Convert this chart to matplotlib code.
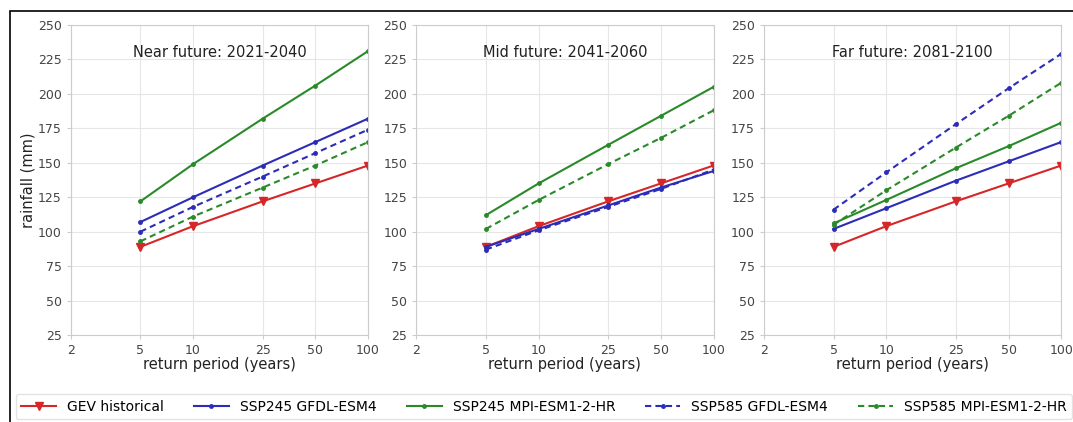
import matplotlib
matplotlib.use('Agg')
import matplotlib.pyplot as plt
from matplotlib.patches import Rectangle
from matplotlib.ticker import FixedLocator, NullLocator, FixedFormatter

# Return periods (years)
periodos = [5, 10, 25, 50, 100]
xticks = [2, 5, 10, 25, 50, 100]
yticks = [25, 50, 75, 100, 125, 150, 175, 200, 225, 250]

titulos = ['Near future: 2021-2040', 'Mid future: 2041-2060', 'Far future: 2081-2100']

gev_hist = [89, 104, 122, 135, 148]

# Near future
near_245_gfdl = [107, 125, 148, 165, 182]
near_245_mpi = [122, 149, 182, 206, 231]
near_585_gfdl = [100, 118, 140, 157, 174]
near_585_mpi = [93, 111, 132, 148, 165]

# Mid future
mid_245_gfdl = [89, 102, 119, 132, 144]
mid_245_mpi = [112, 135, 163, 184, 205]
mid_585_gfdl = [87, 101, 118, 131, 145]
mid_585_mpi = [102, 123, 149, 168, 188]

# Far future
far_245_gfdl = [102, 117, 137, 151, 165]
far_245_mpi = [106, 123, 146, 162, 179]
far_585_gfdl = [116, 143, 178, 204, 229]
far_585_mpi = [105, 130, 161, 184, 208]

cenarios = [
    (near_245_gfdl, near_245_mpi, near_585_gfdl, near_585_mpi),
    (mid_245_gfdl, mid_245_mpi, mid_585_gfdl, mid_585_mpi),
    (far_245_gfdl, far_245_mpi, far_585_gfdl, far_585_mpi),
]

rotulos = ['GEV historical', 'SSP245 GFDL-ESM4', 'SSP245 MPI-ESM1-2-HR',
           'SSP585 GFDL-ESM4', 'SSP585 MPI-ESM1-2-HR']

fig = plt.figure(figsize=(10.73, 4.22), dpi=100)
lefts = [0.066, 0.388, 0.712]
largura = 0.277
bottom = 0.206
altura = 0.735

handles = None
for i, (titulo, (g245, m245, g585, m585)) in enumerate(zip(titulos, cenarios)):
    ax = fig.add_axes([lefts[i], bottom, largura, altura])
    h0, = ax.plot(periodos, gev_hist, '-', color='#d62728', marker='v', ms=6, lw=1.5)
    h1, = ax.plot(periodos, g245, '-', color='#2c2cb8', marker='.', ms=5, lw=1.5)
    h2, = ax.plot(periodos, m245, '-', color='#2a8a2a', marker='.', ms=5, lw=1.5)
    h3, = ax.plot(periodos, g585, '--', color='#2c2cb8', marker='.', ms=5, lw=1.5,
                  dashes=(3, 2))
    h4, = ax.plot(periodos, m585, '--', color='#2a8a2a', marker='.', ms=5, lw=1.5,
                  dashes=(3, 2))
    handles = [h0, h1, h2, h3, h4]

    ax.set_xscale('log')
    ax.set_xlim(2, 100)
    ax.set_ylim(25, 250)
    ax.xaxis.set_major_locator(FixedLocator(xticks))
    ax.xaxis.set_major_formatter(FixedFormatter([str(t) for t in xticks]))
    ax.xaxis.set_minor_locator(NullLocator())
    ax.set_yticks(yticks)
    ax.grid(True, color='#e6e6e6', lw=0.8)
    ax.tick_params(labelsize=9, labelcolor='#444444', color='#cccccc', length=3)
    for s in ax.spines.values():
        s.set_color('#cccccc')
    ax.set_xlabel('return period (years)', fontsize=10.5, color='#222222', labelpad=0)
    if i == 0:
        ax.set_ylabel('rainfall (mm)', fontsize=10.5, color='#222222', labelpad=2)
    ax.text(0.5, 0.91, titulo, transform=ax.transAxes, ha='center', va='center',
            fontsize=10.5, color='#222222')

fig.legend(handles, rotulos, loc='lower left', bbox_to_anchor=(0.012, 0.0, 0.99, 0.08),
           mode='expand', ncol=5, fontsize=10, frameon=True, edgecolor='#dddddd',
           handlelength=2.5, borderaxespad=0.2)

# moldura externa
fig.patches.append(Rectangle((0.009, -0.01), 1.1, 0.983, transform=fig.transFigure,
                             fill=False, edgecolor='black', lw=1.2))

fig.savefig('out.png', dpi=100)
